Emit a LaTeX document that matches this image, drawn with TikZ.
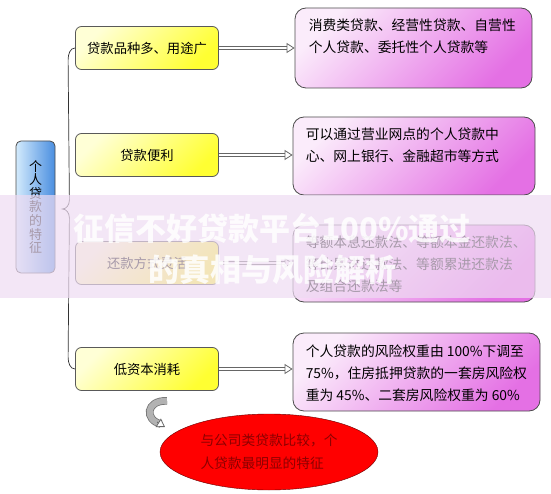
\documentclass[tikz,border=0pt]{standalone}
\usepackage{fontspec}
\setmainfont{Noto Sans CJK SC}
\usetikzlibrary{arrows.meta,positioning,shapes.geometric,calc}
\definecolor{ylite}{RGB}{255,255,214}
\definecolor{ydark}{RGB}{255,255,50}
\definecolor{plite}{RGB}{251,236,251}
\definecolor{pdark}{RGB}{228,112,228}
\definecolor{blite}{RGB}{210,234,252}
\definecolor{bdark}{RGB}{74,142,224}
\definecolor{band}{RGB}{238,219,242}
\definecolor{redtxt}{RGB}{140,0,0}
\tikzset{
  feat/.style={rectangle, rounded corners=5pt, draw=black!70, thick, left color=blite, right color=bdark,
               minimum width=39pt, minimum height=132pt, inner sep=0pt, align=center,
               font=\fontsize{13}{13.6}\selectfont},
  ybox/.style={rectangle, rounded corners=6pt, draw=black!65, thick, top color=ylite, bottom color=ydark,
               shading angle=45, minimum width=143pt, minimum height=43pt, font=\fontsize{13.3}{16}\selectfont},
  pbox/.style={rectangle, rounded corners=11pt, draw=black!70, thick, top color=plite, bottom color=pdark,
               shading angle=45},
  ptxt/.style={anchor=north west, align=left, inner sep=0pt, font=\fontsize{13.8}{22}\selectfont},
  redell/.style={ellipse, fill=red, draw=red!40!black, minimum width=218pt, minimum height=76pt,
                 inner sep=0pt, align=left, text=redtxt, font=\fontsize{13.7}{23}\selectfont},
  brace/.style={draw=black!80, line width=0.7pt},
  shaft/.style={draw=black!60, line width=0.8pt, double=white, double distance=2.8pt, shorten >=5pt},
  head/.style={draw=black!60, line width=0.8pt, -{Triangle[open, fill=white, length=8pt, width=10pt]}},
  curv/.style={draw=black!55, line width=0.8pt, double=black!30, double distance=6pt},
  wmark/.style={text=white, opacity=0.85, align=center, font=\bfseries\fontsize{31}{41}\selectfont},
}

\begin{document}
\begin{tikzpicture}[x=1pt,y=1pt]
\useasboundingbox (0,0) rectangle (551,-494);

\node[feat] (feat) at (35.5,-207) {个\\人\\贷\\款\\的\\特\\征};

\foreach \i/\yy/\ylab in {1/48/{贷款品种多、用途广}, 2/155/贷款便利, 3/263/还款方式灵活, 4/369/低资本消耗} {
  \node[ybox] (y\i) at (147,-\yy) {\ylab};
}
\foreach \i/\x/\y/\w/\h in {1/413.5/48/237/80, 2/414/156/242/78, 3/414/263.5/242/77, 4/416.5/372/247/78} {
  \node[pbox, minimum width=\w pt, minimum height=\h pt] (p\i) at (\x,-\y) {};
}

\node[ptxt] (p1t) at ($(p1.north west)+(14,-11)$) {消费类贷款、经营性贷款、自营性\\个人贷款、委托性个人贷款等};
\node[ptxt] (p2t) at ($(p2.north west)+(13,-11)$) {可以通过营业网点的个人贷款中\\心、网上银行、金融超市等方式};
\node[ptxt] (p3t) at ($(p3.north west)+(13,-11)$) {等额本息还款法、等额本金还款法、\\等比累进还款法、等额累进还款法\\及组合还款法等};
\node[ptxt] (p4t) at ($(p4.north west)+(13,-12)$) {个人贷款的风险权重由 100\%下调至\\75\%，住房抵押贷款的一套房风险权\\重为 45\%、二套房风险权重为 60\%};

% hollow arrows to the details
\foreach \i in {1,...,4} {
  \draw[shaft] (y\i.east) -- (y\i.east -| p\i.west);
  \draw[head] ($(y\i.east -| p\i.west)+(-6,0)$) -- (y\i.east -| p\i.west);
}

% brace
\coordinate (tip) at ($(feat.east)+(7,-2)$);
\draw[brace] (y1.west) .. controls +(-5,0) and +(0,6) .. ($(y1.west)+(-7,-12)$)
  -- ($(tip)+(7,9)$) .. controls +(0,-5) and +(4,0) .. (tip)
  .. controls +(4,0) and +(0,5) .. ($(tip)+(7,-9)$)
  -- ($(y4.west)+(-7,12)$) .. controls +(0,-6) and +(-5,0) .. (y4.west);

\node[redell] (ell) at (269,-452) {与公司类贷款比较，个\\人贷款最明显的特征};

% curved arrow
\coordinate (cs) at ($(y4.south)+(20,-10)$);
\coordinate (ce) at ($(ell.center)+(-108,28)$);
\draw[curv] (cs) .. controls (146,-400) and (144,-420) .. (ce);
\draw[head] ($(ce)+(-4,2)$) -- ($(ce)+(4,-3)$);

% overlay band
\fill[band, opacity=0.7] (0,-195) rectangle (551,-298);
\node[wmark] (wm) at (272,-249) {征信不好贷款平台100\%通过\\的真相与风险解析};
\end{tikzpicture}
\end{document}
